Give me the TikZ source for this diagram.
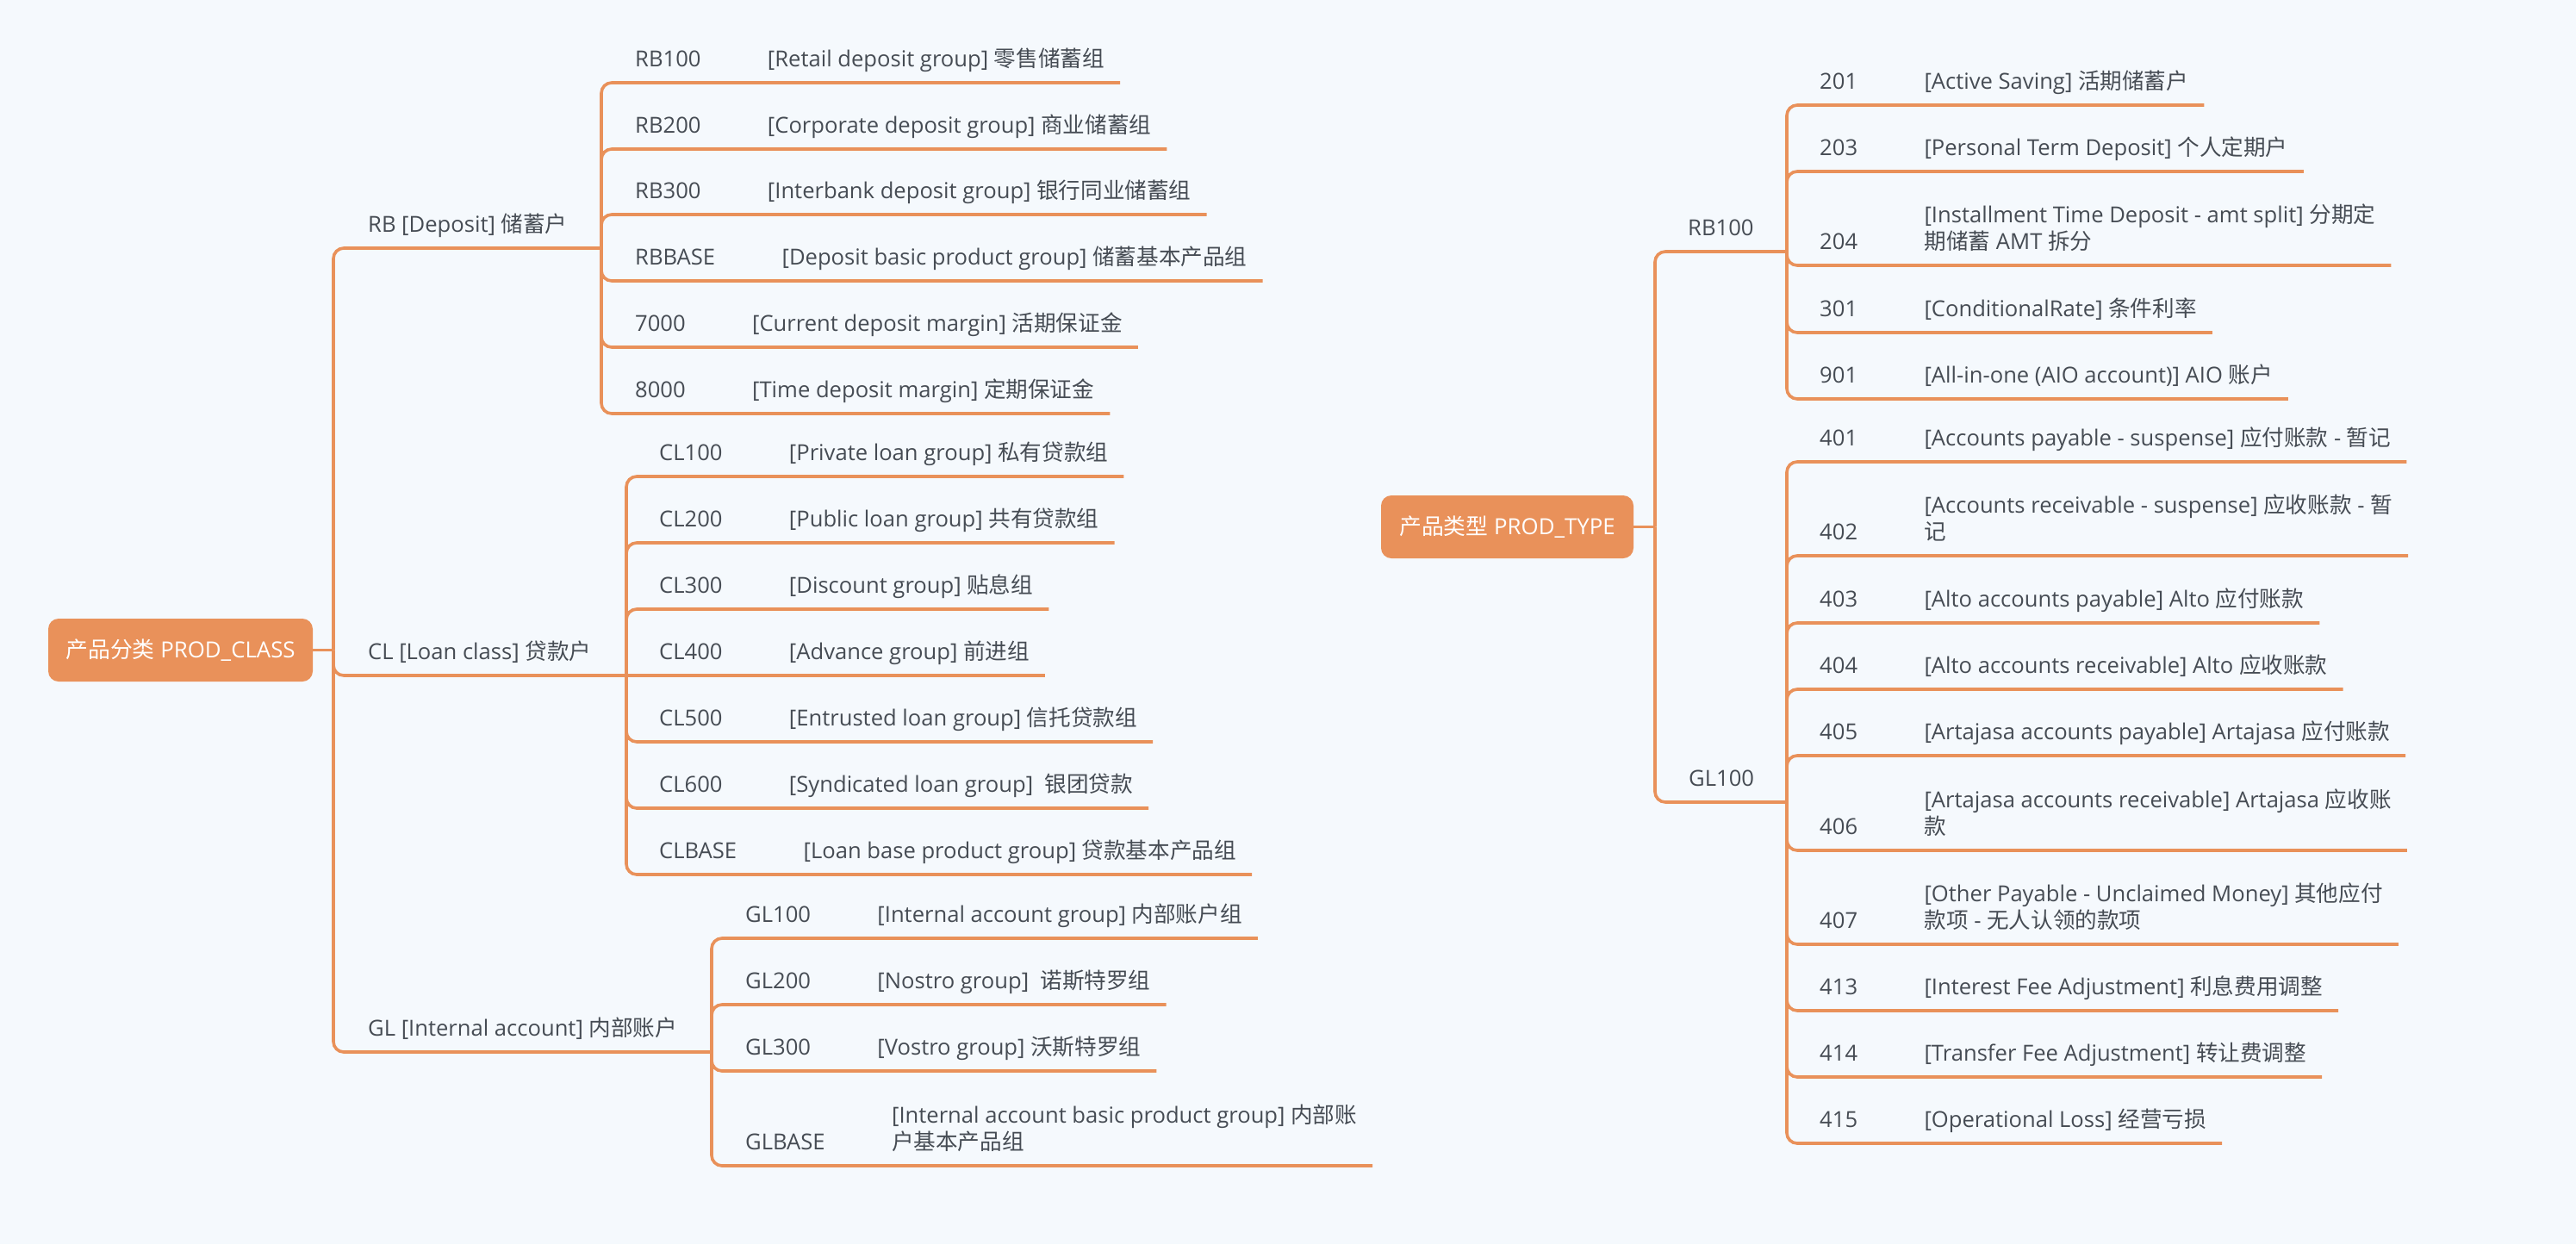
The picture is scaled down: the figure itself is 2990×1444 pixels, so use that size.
\documentclass[tikz,border=0pt]{standalone}
\usepackage{fontspec}
\setmainfont{Open Sans}
\newfontfamily\cjk{Noto Sans CJK SC}
\usetikzlibrary{calc}
\definecolor{bgc}{RGB}{245,249,253}
\definecolor{brc}{RGB}{233,145,90}
\definecolor{txc}{RGB}{70,76,84}
\tikzset{
  txt/.style={anchor=base west, inner sep=0pt, text=txc, font=\fontsize{25.6pt}{31pt}\selectfont},
  br/.style={draw=brc, line width=3.6pt, rounded corners=12pt},
  rootbox/.style={fill=brc, rounded corners=12pt, minimum width=307pt, minimum height=73pt, inner sep=0pt, text=white, font=\fontsize{25.8pt}{31pt}\selectfont},
}
% one-line leaf: name, junction, code x, underline y, code, description
\newcommand\leaf[6]{%
  \node[txt] (#1c) at (#3,#4-19) {#5};
  \node[txt] (#1) at ($(#1c.base east)+(77,0)$) {#6};
  \draw[br] (#2) |- ($(#1.base east)+(18,19)$);
}
% two-line leaf: name, junction, code x, underline y, code, line 1, line 2
\newcommand\leafii[7]{%
  \node[txt] (#1c) at (#3,#4-19) {#5};
  \node[txt] (#1b) at ($(#1c.base east)+(77,0)$) {#7};
  \node[txt] (#1) at ($(#1b.base west)+(0,-31)$) {#6};
  \draw[br] (#2) |- ($(#1.base east)+(18,50)$);
}
\begin{document}
\begin{tikzpicture}[x=1pt,y=-1pt]
\fill[bgc] (0,0) rectangle (2990,1444);
\useasboundingbox (0,0) rectangle (2990,1444);

% ===== left tree =====
\node[rootbox] (pc) at (209.5,754.5) {{\cjk 产品分类} PROD\_CLASS};
\coordinate (J1) at (387,754.5);
\draw[br] (pc.east) -- (J1);

\node[txt] (RB) at (427,269) {RB [Deposit] {\cjk 储蓄户}};
\coordinate (JRB) at (698,288);
\draw[br] (J1) |- (JRB);
\leaf{rbA}{JRB}{737}{96}{RB100}{[Retail deposit group] {\cjk 零售储蓄组}}
\leaf{rbB}{JRB}{737}{173}{RB200}{[Corporate deposit group] {\cjk 商业储蓄组}}
\leaf{rbC}{JRB}{737}{249}{RB300}{[Interbank deposit group] {\cjk 银行同业储蓄组}}
\leaf{rbD}{JRB}{737}{326}{RBBASE}{[Deposit basic product group] {\cjk 储蓄基本产品组}}
\leaf{rbE}{JRB}{737}{403}{7000}{[Current deposit margin] {\cjk 活期保证金}}
\leaf{rbF}{JRB}{737}{480}{8000}{[Time deposit margin] {\cjk 定期保证金}}

\node[txt] (CL) at (427,765) {CL [Loan class] {\cjk 贷款户}};
\coordinate (JCL) at (727,784);
\draw[br] (J1) |- (JCL);
\leaf{clA}{JCL}{765}{553}{CL100}{[Private loan group] {\cjk 私有贷款组}}
\leaf{clB}{JCL}{765}{630}{CL200}{[Public loan group] {\cjk 共有贷款组}}
\leaf{clC}{JCL}{765}{707}{CL300}{[Discount group] {\cjk 贴息组}}
\node[txt] (clDc) at (765,765) {CL400};
\node[txt] (clD) at ($(clDc.base east)+(77,0)$) {[Advance group] {\cjk 前进组}};
\draw[br] (JCL) -- ($(clD.base east)+(18,19)$);
\leaf{clE}{JCL}{765}{861}{CL500}{[Entrusted loan group] {\cjk 信托贷款组}}
\leaf{clF}{JCL}{765}{938}{CL600}{[Syndicated loan group]\ \ {\cjk 银团贷款}}
\leaf{clG}{JCL}{765}{1015}{CLBASE}{[Loan base product group] {\cjk 贷款基本产品组}}

\node[txt] (GL) at (427,1202) {GL [Internal account] {\cjk 内部账户}};
\coordinate (JGL) at (826,1221);
\draw[br] (J1) |- (JGL);
\leaf{glA}{JGL}{865}{1089}{GL100}{[Internal account group] {\cjk 内部账户组}}
\leaf{glB}{JGL}{865}{1166}{GL200}{[Nostro group]\ \ {\cjk 诺斯特罗组}}
\leaf{glC}{JGL}{865}{1243}{GL300}{[Vostro group] {\cjk 沃斯特罗组}}
\leafii{glD}{JGL}{865}{1353}{GLBASE}{[Internal account basic product group] {\cjk 内部账}}{{\cjk 户基本产品组}}

% ===== right tree =====
\node[rootbox, minimum width=293pt] (pt) at (1749.5,611.5) {{\cjk 产品类型} PROD\_TYPE};
\coordinate (J2) at (1921,611.5);
\draw[br] (pt.east) -- (J2);

\node[txt] (RR) at (1959,273) {RB100};
\coordinate (JRR) at (2074,292);
\draw[br] (J2) |- (JRR);
\leaf{rrA}{JRR}{2112}{122}{201}{[Active Saving] {\cjk 活期储蓄户}}
\leaf{rrB}{JRR}{2112}{199}{203}{[Personal Term Deposit] {\cjk 个人定期户}}
\leafii{rrC}{JRR}{2112}{308}{204}{[Installment Time Deposit - amt split] {\cjk 分期定}}{{\cjk 期储蓄} AMT {\cjk 拆分}}
\leaf{rrD}{JRR}{2112}{386}{301}{[ConditionalRate] {\cjk 条件利率}}
\leaf{rrE}{JRR}{2112}{463}{901}{[All-in-one (AIO account)] AIO {\cjk 账户}}

\node[txt] (GG) at (1960,912) {GL100};
\coordinate (JGG) at (2074,931);
\draw[br] (J2) |- (JGG);
\leaf{ggA}{JGG}{2112}{536}{401}{[Accounts payable - suspense] {\cjk 应付账款} - {\cjk 暂记}}
\leafii{ggB}{JGG}{2112}{645}{402}{[Accounts receivable - suspense] {\cjk 应收账款} - {\cjk 暂}}{{\cjk 记}}
\leaf{ggC}{JGG}{2112}{723}{403}{[Alto accounts payable] Alto {\cjk 应付账款}}
\leaf{ggD}{JGG}{2112}{800}{404}{[Alto accounts receivable] Alto {\cjk 应收账款}}
\leaf{ggE}{JGG}{2112}{877}{405}{[Artajasa accounts payable] Artajasa {\cjk 应付账款}}
\leafii{ggF}{JGG}{2112}{987}{406}{[Artajasa accounts receivable] Artajasa {\cjk 应收账}}{{\cjk 款}}
\leafii{ggG}{JGG}{2112}{1096}{407}{[Other Payable - Unclaimed Money] {\cjk 其他应付}}{{\cjk 款项} - {\cjk 无人认领的款项}}
\leaf{ggH}{JGG}{2112}{1173}{413}{[Interest Fee Adjustment] {\cjk 利息费用调整}}
\leaf{ggI}{JGG}{2112}{1250}{414}{[Transfer Fee Adjustment] {\cjk 转让费调整}}
\leaf{ggJ}{JGG}{2112}{1327}{415}{[Operational Loss] {\cjk 经营亏损}}
\end{tikzpicture}
\end{document}
